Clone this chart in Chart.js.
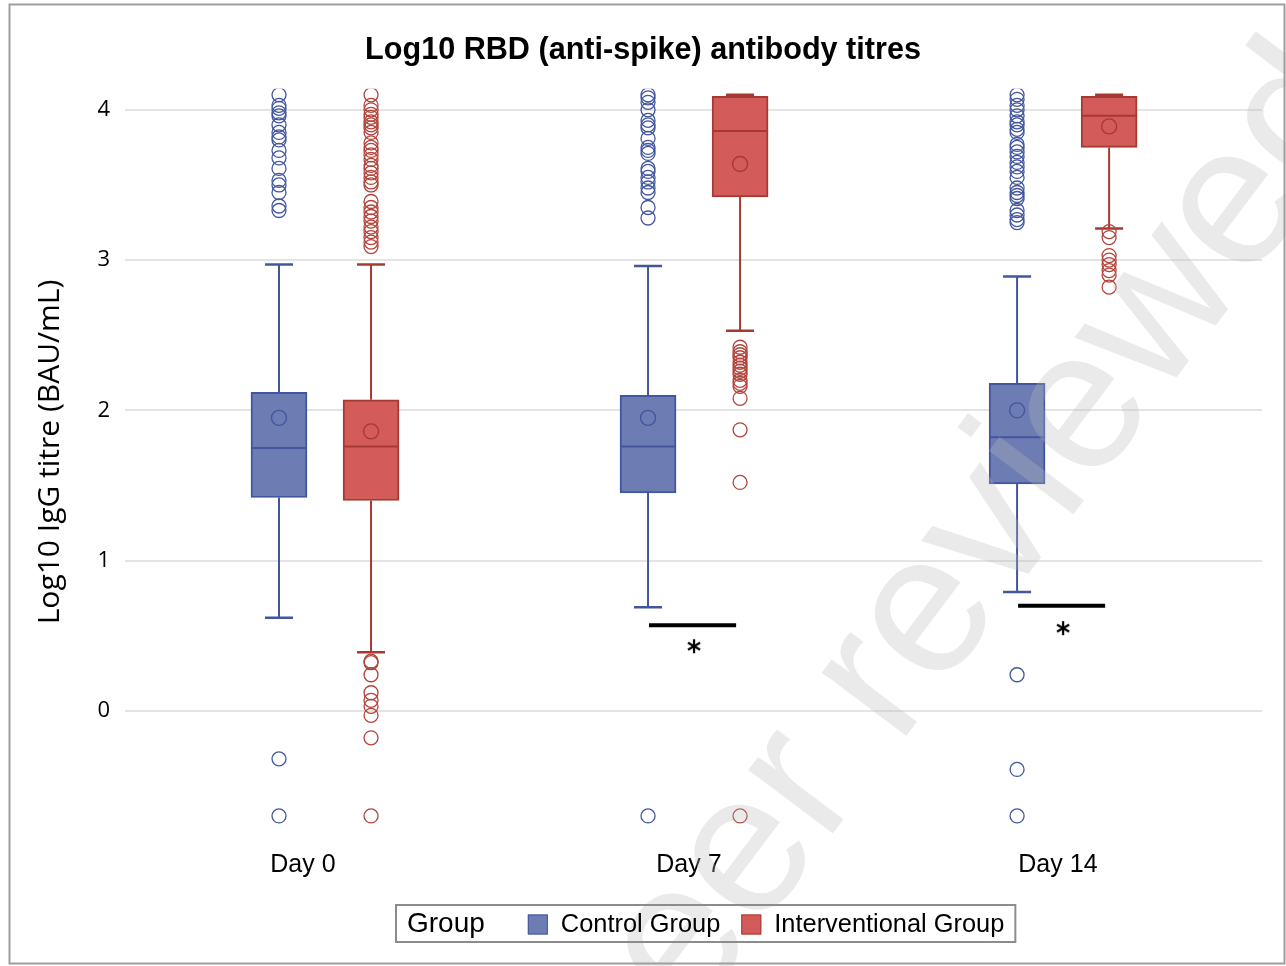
<!DOCTYPE html>
<html>
<head>
<meta charset="utf-8">
<script src="https://cdn.jsdelivr.net/npm/chart.js@4.4.1/dist/chart.umd.min.js"></script>
<style>
  html, body { margin: 0; padding: 0; background: #ffffff; }
  #wrap { width: 1286px; height: 966px; position: relative; }
</style>
</head>
<body>
<div id="wrap"><canvas id="c" width="1286" height="966"></canvas></div>
<script>
// ---------------- data ----------------
const categories = ['Day 0', 'Day 7', 'Day 14'];
const groupNames = ['Control Group', 'Interventional Group'];
const yTickValues = [0, 1, 2, 3, 4];
const yAxisTitle = 'Log10 IgG titre (BAU/mL)';
const chartTitle = 'Log10 RBD (anti-spike) antibody titres';

// Control group box statistics (per category)
const ctrlQ1     = [1.42, 1.45, 1.51];
const ctrlMedian = [1.75, 1.76, 1.82];
const ctrlQ3     = [2.12, 2.10, 2.18];
const ctrlLow    = [0.62, 0.69, 0.79];
const ctrlHigh   = [2.97, 2.96, 2.89];
const ctrlMean   = [1.95, 1.95, 2.00];
const ctrlOutliers = [
  [4.10, 4.03, 4.01, 3.98, 3.96, 3.90, 3.85, 3.82, 3.80, 3.73, 3.68, 3.61, 3.53, 3.50, 3.45, 3.36, 3.33, -0.32, -0.70],
  [4.10, 4.08, 4.05, 4.00, 3.93, 3.90, 3.88, 3.81, 3.75, 3.73, 3.71, 3.61, 3.59, 3.55, 3.52, 3.48, 3.45, 3.35, 3.28, -0.70],
  [4.10, 4.07, 4.03, 4.00, 3.96, 3.92, 3.90, 3.87, 3.85, 3.77, 3.75, 3.72, 3.69, 3.65, 3.62, 3.59, 3.55, 3.48, 3.45, 3.43, 3.41, 3.33, 3.30, 3.27, 3.25, 0.24, -0.39, -0.70]
];

// Interventional group box statistics (per category)
const intQ1     = [1.40, 3.42, 3.75];
const intMedian = [1.76, 3.86, 3.96];
const intQ3     = [2.07, 4.09, 4.09];
const intLow    = [0.39, 2.53, 3.21];
const intHigh   = [2.97, 4.10, 4.10];
const intMean   = [1.86, 3.64, 3.89];
const intOutliers = [
  [4.10, 4.03, 4.00, 3.97, 3.95, 3.92, 3.90, 3.88, 3.85, 3.78, 3.75, 3.73, 3.70, 3.67, 3.63, 3.61, 3.58, 3.55, 3.52, 3.50,
   3.39, 3.35, 3.32, 3.29, 3.26, 3.22, 3.19, 3.15, 3.12, 3.09, 0.33, 0.32, 0.24, 0.12, 0.07, 0.03, -0.03, -0.18, -0.70],
  [2.42, 2.39, 2.37, 2.35, 2.32, 2.30, 2.28, 2.26, 2.24, 2.20, 2.18, 2.16, 2.08, 1.87, 1.52, -0.70],
  [3.19, 3.15, 3.03, 3.00, 2.97, 2.93, 2.90, 2.82]
];

// significance markers
const sigCategory = [1, 2];
const sigBarY     = [0.57, 0.70];
const sigStarY    = [0.43, 0.55];

// ---------------- layout / style constants ----------------
const GROUP_OFF = 0.1247;   // x offset of each group from category centre (axis units)
const HALF_BOX  = 0.0759;   // half box width (axis units)
const HALF_CAP  = 0.038;    // half whisker-cap width
const SIG_LEFT  = -0.122, SIG_RIGHT = 0.114;
const labelShift = [-0.06, -0.014, -0.014];
const FONT_SANS = '"Liberation Sans", Arial, sans-serif';
const FONT_OPEN = '"Open Sans", "Liberation Sans", sans-serif';

const styles = [
  { fill: '#6d7db4', line: '#42569c', pt: '#4257a0' },
  { fill: '#d35b5a', line: '#a63a31', pt: '#b2443b' }
];

const groups = [
  { q1: ctrlQ1, med: ctrlMedian, q3: ctrlQ3, lo: ctrlLow, hi: ctrlHigh, mean: ctrlMean, out: ctrlOutliers },
  { q1: intQ1,  med: intMedian,  q3: intQ3,  lo: intLow,  hi: intHigh,  mean: intMean,  out: intOutliers }
];

// asterisk marker image
const starImg = document.createElement('canvas');
starImg.width = 18; starImg.height = 18;
(function () {
  const g = starImg.getContext('2d');
  g.strokeStyle = '#000'; g.lineWidth = 2.2; g.lineCap = 'butt';
  for (let k = 0; k < 3; k++) {
    const a = Math.PI / 2 + k * Math.PI / 3;
    g.beginPath();
    g.moveTo(9 + 7 * Math.cos(a), 9 + 7 * Math.sin(a));
    g.lineTo(9 - 7 * Math.cos(a), 9 - 7 * Math.sin(a));
    g.stroke();
  }
})();

const datasets = [];
groups.forEach((g, gi) => {
  const sign = gi === 0 ? -1 : 1;
  const st = styles[gi];
  const xs = categories.map((_, ci) => ci + sign * GROUP_OFF);
  datasets.push({
    type: 'bar', label: groupNames[gi],
    data: xs.map((x, ci) => ({ x: x, y: [g.q1[ci], g.q3[ci]] })),
    backgroundColor: st.fill, borderColor: st.line, borderWidth: 2,
    borderSkipped: false, grouped: false, barThickness: 56, order: 10
  });
  xs.forEach((x, ci) => {
    const seg = (pts, w) => datasets.push({
      type: 'line', data: pts, borderColor: st.line, borderWidth: w,
      pointRadius: 0, fill: false, tension: 0, order: 5
    });
    seg([{ x: x - HALF_BOX, y: g.med[ci] }, { x: x + HALF_BOX, y: g.med[ci] }], 2);
    seg([{ x: x, y: g.q3[ci] }, { x: x, y: g.hi[ci] }], 2);
    seg([{ x: x, y: g.q1[ci] }, { x: x, y: g.lo[ci] }], 2);
    seg([{ x: x - HALF_CAP, y: g.hi[ci] }, { x: x + HALF_CAP, y: g.hi[ci] }], 2.5);
    seg([{ x: x - HALF_CAP, y: g.lo[ci] }, { x: x + HALF_CAP, y: g.lo[ci] }], 2.5);
  });
  datasets.push({
    type: 'line', showLine: false,
    data: xs.map((x, ci) => ({ x: x, y: g.mean[ci] })),
    pointRadius: 7.5, pointBorderWidth: 1.4,
    pointBackgroundColor: 'rgba(0,0,0,0)', pointBorderColor: st.line, order: 1
  });
  datasets.push({
    type: 'line', showLine: false,
    data: xs.flatMap((x, ci) => g.out[ci].map(v => ({ x: x, y: v }))),
    pointRadius: 7, pointBorderWidth: 1.3,
    pointBackgroundColor: 'rgba(0,0,0,0)', pointBorderColor: st.pt, order: 1
  });
});
sigCategory.forEach((c, i) => {
  datasets.push({
    type: 'line', data: [{ x: c + SIG_LEFT, y: sigBarY[i] }, { x: c + SIG_RIGHT, y: sigBarY[i] }],
    borderColor: '#000', borderWidth: 4, pointRadius: 0, fill: false, order: 1
  });
});
datasets.push({
  type: 'line', showLine: false,
  data: sigCategory.map((c, i) => ({ x: c, y: sigStarY[i] })),
  pointStyle: starImg, pointRadius: 8, order: 1
});

// ---------------- plugins ----------------
const decor = {
  id: 'decor',
  beforeDraw(chart) {
    const ctx = chart.ctx;
    ctx.save();
    ctx.fillStyle = '#ffffff';
    ctx.fillRect(0, 0, chart.width, chart.height);
    ctx.restore();
  },
  afterDatasetsDraw(chart) {
    // watermark
    const ctx = chart.ctx;
    ctx.save();
    ctx.translate(898, 747);
    ctx.rotate(-53 * Math.PI / 180);
    ctx.font = '200px ' + FONT_SANS;
    ctx.fillStyle = 'rgba(185,185,185,0.3)';
    ctx.textBaseline = 'alphabetic';
    ctx.textAlign = 'left';
    ctx.fillText('reviewed', 0, 0);
    ctx.textAlign = 'right';
    ctx.fillText('Not peer ', 0, 0);
    ctx.restore();
  },
  afterDraw(chart) {
    const ctx = chart.ctx;
    ctx.save();
    // y-axis title
    ctx.save();
    ctx.translate(50, 452);
    ctx.rotate(-Math.PI / 2);
    ctx.font = '30px ' + FONT_OPEN;
    ctx.fillStyle = '#000';
    ctx.textAlign = 'center';
    ctx.textBaseline = 'middle';
    ctx.fillText(yAxisTitle, 0, 0);
    ctx.restore();
    // legend
    const left = 396, top = 905, h = 37;
    const cy = top + h / 2 + 1;
    ctx.textBaseline = 'middle';
    ctx.textAlign = 'left';
    ctx.fillStyle = '#000';
    ctx.font = '28px ' + FONT_SANS;
    let x = left + 11;
    ctx.fillText('Group', x, cy);
    x += ctx.measureText('Group').width + 43;
    groupNames.forEach((name, gi) => {
      ctx.fillStyle = styles[gi].fill;
      ctx.fillRect(x, cy - 10, 20, 20);
      ctx.strokeStyle = styles[gi].line;
      ctx.lineWidth = 1;
      ctx.strokeRect(x + 0.5, cy - 9.5, 19, 19);
      x += 20 + 13;
      ctx.fillStyle = '#000';
      ctx.font = '25.4px ' + FONT_SANS;
      ctx.fillText(name, x, cy);
      x += ctx.measureText(name).width + 21;
    });
    const right = x - 21 + 11;
    ctx.strokeStyle = '#8c8c8c';
    ctx.lineWidth = 2;
    ctx.strokeRect(left, top, right - left, h);
    // outer frame
    ctx.strokeStyle = '#9e9e9e';
    ctx.lineWidth = 2;
    ctx.strokeRect(9.5, 4.5, 1275, 959);
    ctx.restore();
  }
};

Chart.defaults.font.family = FONT_SANS;
Chart.defaults.color = '#000';

new Chart(document.getElementById('c'), {
  type: 'bar',
  data: { datasets: datasets },
  options: {
    responsive: false,
    animation: false,
    devicePixelRatio: 1,
    events: [],
    layout: { padding: { left: 12, right: 12, top: 0, bottom: 81 } },
    plugins: {
      legend: { display: false },
      tooltip: { enabled: false },
      title: {
        display: true,
        text: chartTitle,
        color: '#000',
        font: { family: FONT_SANS, size: 30.6, weight: 'bold' },
        padding: { top: 32.5, bottom: 19.6 }
      }
    },
    scales: {
      x: {
        type: 'linear', min: -0.542, max: 2.539, offset: false,
        grid: { display: false, offset: false }, border: { display: false },
        afterBuildTicks: s => { s.ticks = categories.map((_, i) => ({ value: i + labelShift[i] })); },
        afterFit: s => { s.height = 45; },
        ticks: {
          autoSkip: false, maxRotation: 0, padding: 2, color: '#000',
          font: { family: FONT_SANS, size: 25 },
          callback: (v, i) => categories[i]
        }
      },
      y: {
        type: 'linear', min: -0.86, max: 4.14,
        grid: { color: '#e4e4e4', lineWidth: 2, drawTicks: false }, border: { display: false },
        afterBuildTicks: s => { s.ticks = yTickValues.map(v => ({ value: v })); },
        afterFit: s => { s.width = 113; },
        ticks: { padding: 15, color: '#000', font: { family: FONT_OPEN, size: 22 } },
        title: { display: false, text: yAxisTitle }
      },
      yRight: {
        type: 'linear', position: 'right', min: -0.86, max: 4.14,
        grid: { display: false }, border: { display: false },
        ticks: { display: false },
        afterFit: s => { s.width = 12; }
      }
    }
  },
  plugins: [decor]
});
</script>
</body>
</html>
